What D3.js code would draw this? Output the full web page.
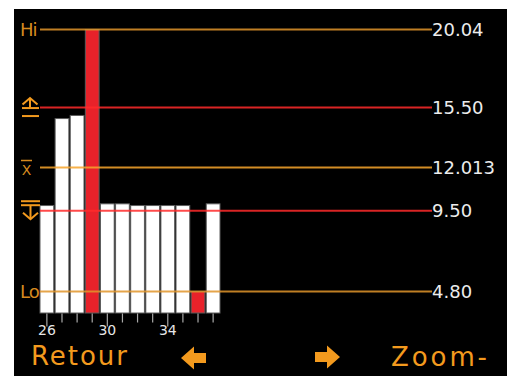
<!DOCTYPE html>
<html>
<head>
<meta charset="utf-8">
<script src="https://cdn.jsdelivr.net/npm/d3@7"></script>
<style>
  html, body { margin: 0; padding: 0; background: #fff; }
  svg { display: block; }
</style>
</head>
<body>
<svg id="chart" width="507" height="376"></svg>
<script>
// Measurement sample numbers and readings
const categories = [26, 27, 28, 29, 30, 31, 32, 33, 34, 35, 36, 37];
const readings = [9.80, 14.86, 15.04, 20.04, 9.90, 9.90, 9.80, 9.80, 9.80, 9.80, 4.80, 9.90];
const tickLabels = [26, 30, 34];

// Reference lines: Hi, upper limit, mean, lower limit, Lo
const limitKinds = ["hi", "upper", "mean", "lower", "lo"];
const limitValues = [20.04, 15.50, 12.013, 9.50, 4.80];
const limitLabels = ["20.04", "15.50", "12.013", "9.50", "4.80"];

// Softkey captions
const softkeys = ["Retour", "Zoom-"];

const ORANGE = "#f39a1e";
const ORANGE_DIM = "#d68a1f";
const RED = "#e8222a";

const svg = d3.select("#chart");

// screen area
svg.append("rect").attr("x", 14).attr("y", 9).attr("width", 493).attr("height", 367).attr("fill", "#000");

const x = d3.scaleBand().domain(categories).range([40, 220]).paddingInner(0.09).paddingOuter(0);
const y = d3.scaleLinear().domain([3.55, 20.04]).range([313, 29.5]);

const upper = limitValues[1], lower = limitValues[3];

// bars
svg.append("g").selectAll("rect")
  .data(categories.map((c, i) => ({ c, v: readings[i] })))
  .join("rect")
  .attr("x", d => x(d.c))
  .attr("width", x.bandwidth())
  .attr("y", d => y(d.v))
  .attr("height", d => y.range()[0] - y(d.v))
  .attr("fill", d => (d.v > upper || d.v < lower) ? RED : "#fff")
  .attr("stroke", "#5c5c5c")
  .attr("stroke-width", 1);

// axis with a tick under every bar, labels every fourth sample
const axis = d3.axisBottom(x)
  .tickSize(9)
  .tickFormat(d => tickLabels.includes(d) ? d : "");
const gx = svg.append("g").attr("transform", "translate(0,313.5)").call(axis);
gx.select(".domain").remove();
gx.selectAll(".tick line").attr("stroke", "#a8a8a8").attr("stroke-width", 1.2)
  .attr("y2", d => tickLabels.includes(d) ? 13 : 9);
gx.selectAll(".tick text")
  .attr("y", 12)
  .attr("dy", "0.71em")
  .attr("fill", "#e6e6e6")
  .attr("font-family", "DejaVu Sans")
  .attr("font-size", 14);

// reference lines
const lineColor = k => (k === "upper" || k === "lower") ? "#ff2a2a" : (k === "mean" ? "#f7a52c" : "#e0952a");
const lines = svg.append("g");
limitValues.forEach((v, i) => {
  const k = limitKinds[i];
  lines.append("line")
    .attr("x1", 40).attr("x2", 432)
    .attr("y1", y(v)).attr("y2", y(v))
    .attr("stroke", lineColor(k))
    .attr("stroke-opacity", 0.85)
    .attr("stroke-width", 1.9);
  svg.append("text")
    .attr("x", 432).attr("y", y(v) + 6.5)
    .attr("fill", "#ececec")
    .attr("font-family", "DejaVu Sans")
    .attr("font-size", 18)
    .text(limitLabels[i]);
});

// left-side markers
const marks = svg.append("g").attr("fill", "none").attr("stroke", ORANGE).attr("stroke-width", 2);
limitValues.forEach((v, i) => {
  const k = limitKinds[i];
  const L = y(v);
  if (k === "hi" || k === "lo") {
    svg.append("text")
      .attr("x", 20).attr("y", L + 6.5)
      .attr("fill", ORANGE_DIM)
      .attr("font-family", "DejaVu Sans")
      .attr("font-size", 18)
      .attr("letter-spacing", -1)
      .text(k === "hi" ? "Hi" : "Lo");
  } else if (k === "mean") {
    svg.append("text")
      .attr("x", 26.5).attr("y", L + 7.5)
      .attr("text-anchor", "middle")
      .attr("fill", ORANGE_DIM)
      .attr("font-family", "DejaVu Sans")
      .attr("font-size", 14)
      .text("X");
    marks.append("line").attr("x1", 21).attr("x2", 32).attr("y1", L - 7).attr("y2", L - 7)
      .attr("stroke-width", 1.5).attr("stroke", ORANGE_DIM);
  } else if (k === "upper") {
    marks.append("path").attr("d", `M22.5,${L - 3} L30,${L - 9.5} L37.5,${L - 3}`);
    marks.append("path").attr("d", `M30,${L - 9} V${L}`);
    marks.append("path").attr("d", `M22,${L + 0.5} H39`);
    marks.append("path").attr("d", `M22,${L + 8.5} H39`);
  } else if (k === "lower") {
    marks.append("path").attr("d", `M21,${L - 9.5} H40`);
    marks.append("path").attr("d", `M21,${L - 5.5} H40`);
    marks.append("path").attr("d", `M30.5,${L - 5} V${L + 8}`);
    marks.append("path").attr("d", `M23,${L + 2} L30.5,${L + 8.5} L38,${L + 2}`);
  }
});

// softkey row
svg.append("text")
  .attr("x", 31).attr("y", 365)
  .attr("fill", ORANGE)
  .attr("font-family", "DejaVu Sans")
  .attr("font-size", 26)
  .attr("textLength", 96).attr("lengthAdjust", "spacing")
  .text(softkeys[0]);
svg.append("text")
  .attr("x", 391).attr("y", 366)
  .attr("fill", ORANGE)
  .attr("font-family", "DejaVu Sans")
  .attr("font-size", 26)
  .attr("textLength", 96).attr("lengthAdjust", "spacing")
  .text(softkeys[1]);

// navigation arrows
const cy = 358;
svg.append("path")
  .attr("d", `M181,${cy} L194,${cy - 11.5} L194,${cy - 5} L206,${cy - 5} L206,${cy + 5} L194,${cy + 5} L194,${cy + 11.5} Z`)
  .attr("fill", ORANGE);
svg.append("path")
  .attr("d", `M340,${cy - 1} L327,${cy - 12.5} L327,${cy - 6} L315,${cy - 6} L315,${cy + 4} L327,${cy + 4} L327,${cy + 10.5} Z`)
  .attr("fill", ORANGE);
</script>
</body>
</html>
